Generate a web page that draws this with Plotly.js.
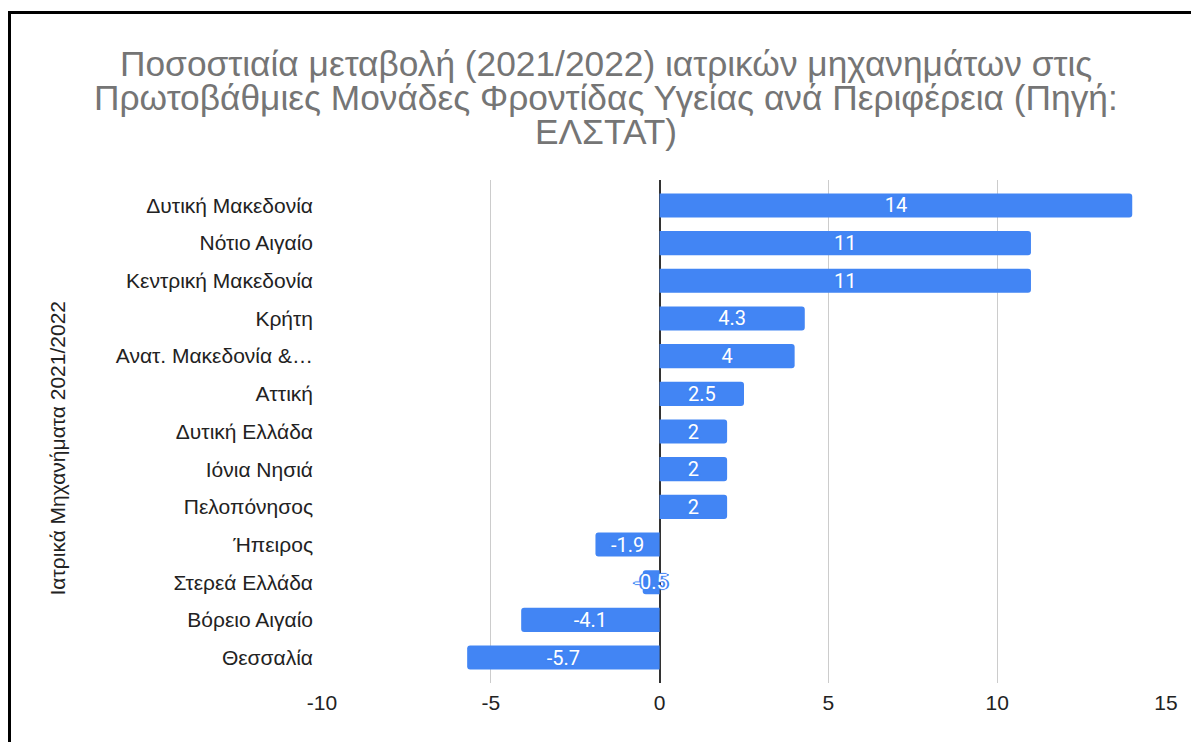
<!DOCTYPE html>
<html>
<head>
<meta charset="utf-8">
<script src="https://cdn.plot.ly/plotly-3.0.1.min.js"></script>
<style>
  html, body { margin: 0; padding: 0; background: #fff; overflow: hidden; }
  #chart { position: absolute; left: 0; top: 0; width: 1191px; height: 742px; }
  #frame { position: absolute; left: 8px; top: 11px; width: 1300px; height: 800px;
           border-left: 3px solid #000; border-top: 3px solid #000; pointer-events: none; }
</style>
</head>
<body>
<div id="chart"></div>
<div id="frame"></div>
<script>
const regions = [
  "Δυτική Μακεδονία", "Νότιο Αιγαίο", "Κεντρική Μακεδονία", "Κρήτη",
  "Ανατ. Μακεδονία &…", "Αττική", "Δυτική Ελλάδα", "Ιόνια Νησιά",
  "Πελοπόνησος", "Ήπειρος", "Στερεά Ελλάδα", "Βόρειο Αιγαίο", "Θεσσαλία"
];
const changes = [14, 11, 11, 4.3, 4, 2.5, 2, 2, 2, -1.9, -0.5, -4.1, -5.7];
const xTicks = [-10, -5, 0, 5, 10, 15];
const titleLines = [
  "Ποσοστιαία μεταβολή (2021/2022) ιατρικών μηχανημάτων στις",
  "Πρωτοβάθμιες Μονάδες Φροντίδας Υγείας ανά Περιφέρεια (Πηγή:",
  "ΕΛΣΤΑΤ)"
];
const yTitle = "Ιατρικά Μηχανήματα 2021/2022";

const W = 1191, H = 742;
const M = { l: 322, r: 25, t: 180, b: 59 };
const plotW = W - M.l - M.r, plotH = H - M.t - M.b;
const px2paperX = px => (px - M.l) / plotW;
const px2paperY = py => (H - M.b - py) / plotH;

const blue = "#4285F4";
const sansFont = "'Liberation Sans', Arial, sans-serif";

const trace = {
  type: "bar",
  orientation: "h",
  x: changes,
  y: regions,
  text: changes.map(v => String(v)),
  textposition: "inside",
  insidetextanchor: "middle",
  textangle: 0,
  constraintext: "none",
  cliponaxis: false,
  textfont: {
    family: "Roboto, 'Liberation Sans', Arial, sans-serif",
    size: 20,
    color: "#ffffff",
    shadow: "1px 0 1px #4285F4, -1px 0 1px #4285F4, 0 1px 1px #4285F4, 0 -1px 1px #4285F4, 2px 0 0 #4285F4, -2px 0 0 #4285F4"
  },
  marker: { color: blue, cornerradius: 3, line: { width: 0 } },
  hoverinfo: "x+y"
};

const annotations = titleLines.map((t, i) => ({
  text: t,
  xref: "paper", yref: "paper",
  x: px2paperX(605.5),
  y: px2paperY(64 + 34 * i),
  xanchor: "center", yanchor: "middle",
  yshift: 0,
  showarrow: false,
  font: { family: sansFont, size: 35.3, color: "#757575" }
}));
annotations.push({
  text: yTitle,
  xref: "paper", yref: "paper",
  x: px2paperX(57.5),
  y: px2paperY(448),
  xanchor: "center", yanchor: "middle",
  textangle: -90,
  showarrow: false,
  font: { family: sansFont, size: 21, color: "#222222" }
});

const layout = {
  width: W,
  height: H,
  paper_bgcolor: "#ffffff",
  plot_bgcolor: "#ffffff",
  margin: M,
  bargap: 0.36,
  showlegend: false,
  annotations: annotations,
  xaxis: {
    range: [-10, 15],
    tickvals: xTicks,
    ticktext: xTicks.map(String),
    showgrid: true,
    gridcolor: "#cccccc",
    gridwidth: 1,
    zeroline: true,
    zerolinecolor: "#333333",
    zerolinewidth: 1.5,
    showline: false,
    ticks: "",
    ticklabelstandoff: 5,
    tickfont: { family: sansFont, size: 21, color: "#222222" },
    fixedrange: true
  },
  yaxis: {
    type: "category",
    range: [12.675, -0.675],
    showgrid: false,
    zeroline: false,
    showline: false,
    ticks: "",
    ticklabelstandoff: 8,
    tickfont: { family: sansFont, size: 21, color: "#222222" },
    fixedrange: true
  }
};

Plotly.newPlot("chart", [trace], layout, { displayModeBar: false, responsive: false });
</script>
</body>
</html>
